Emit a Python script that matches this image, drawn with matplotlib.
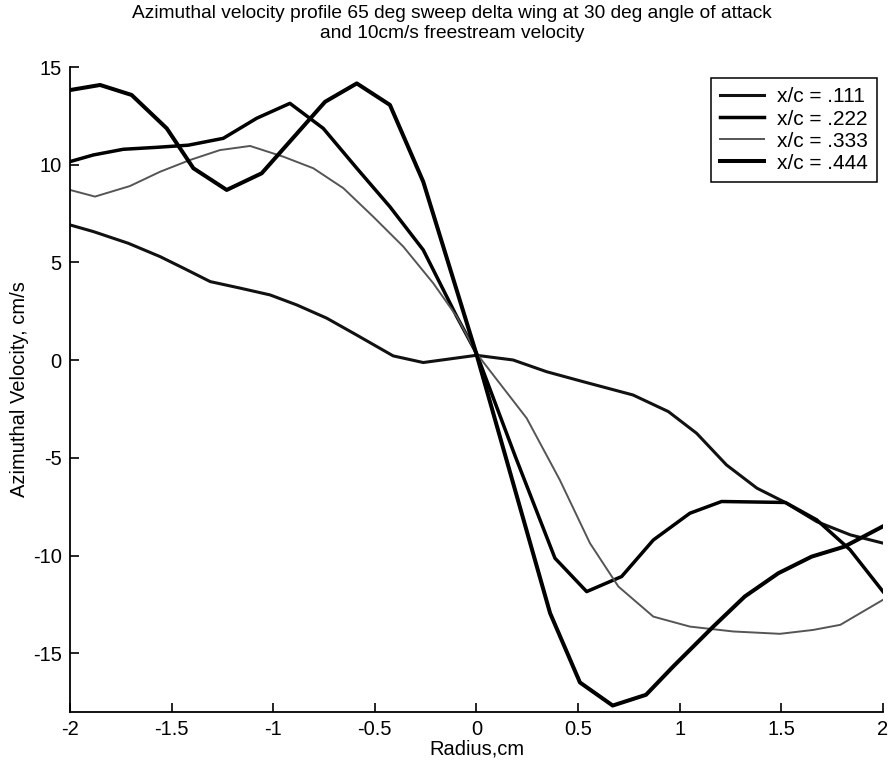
"""
Azimuthal velocity profiles, 65 deg sweep delta wing
"""
import matplotlib
matplotlib.use('Agg')
import matplotlib.pyplot as plt

plt.rcParams['font.family'] = ['Liberation Sans', 'DejaVu Sans']

# radius (cm) and azimuthal velocity (cm/s)
radius_111 = [-2.0, -1.885, -1.713, -1.557, -1.44, -1.31, -1.16, -1.016,
              -0.885, -0.737, -0.59, -0.41, -0.262, 0.0, 0.18, 0.345,
              0.525, 0.77, 0.944, 1.083, 1.23, 1.38, 1.51, 1.674, 1.84, 2.0]
vel_111 = [6.92, 6.58, 5.98, 5.30, 4.70, 4.02, 3.68, 3.34,
           2.83, 2.15, 1.29, 0.22, -0.12, 0.25, 0.01, -0.59,
           -1.1, -1.78, -2.63, -3.74, -5.36, -6.55, -7.23, -8.26, -8.94, -9.36]

radius_222 = [-2.0, -1.885, -1.738, -1.573, -1.418, -1.246, -1.081, -0.918,
              -0.754, -0.589, -0.426, -0.262, -0.097, 0.0, 0.19, 0.386,
              0.542, 0.714, 0.87, 1.05, 1.206, 1.52, 1.674, 1.838, 2.0]
vel_222 = [10.16, 10.5, 10.79, 10.89, 11.0, 11.35, 12.38, 13.14,
           11.86, 9.82, 7.85, 5.64, 2.23, 0.35, -4.9, -10.13,
           -11.84, -11.07, -9.2, -7.83, -7.23, -7.28, -8.17, -9.7, -11.84]

radius_333 = [-2.0, -1.877, -1.705, -1.557, -1.41, -1.262, -1.114, -0.95,
              -0.803, -0.655, -0.508, -0.36, -0.213, -0.097, 0.0, 0.247,
              0.41, 0.558, 0.698, 0.87, 1.05, 1.263, 1.493, 1.657, 1.79, 2.0]
vel_333 = [8.71, 8.37, 8.91, 9.64, 10.24, 10.75, 10.96, 10.41,
           9.82, 8.8, 7.34, 5.81, 3.94, 2.23, 0.35, -2.97,
           -6.13, -9.36, -11.58, -13.12, -13.63, -13.88, -14.0, -13.8, -13.54,
           -12.26]

radius_444 = [-2.0, -1.852, -1.697, -1.524, -1.393, -1.229, -1.057, -0.745,
              -0.589, -0.426, -0.262, 0.0, 0.362, 0.509, 0.67, 0.834,
              0.968, 1.165, 1.32, 1.485, 1.649, 1.81, 2.0]
vel_444 = [13.82, 14.08, 13.57, 11.86, 9.82, 8.71, 9.56, 13.22,
           14.16, 13.06, 9.13, 0.3, -12.94, -16.49, -17.67, -17.12,
           -15.67, -13.63, -12.09, -10.9, -10.05, -9.54, -8.5]

labels = ['x/c = .111', 'x/c = .222', 'x/c = .333', 'x/c = .444']

fig = plt.figure(figsize=(8.91, 7.69), dpi=100)
ax = fig.add_axes([70 / 891, 57 / 769, 813 / 891, 645 / 769])

ax.plot(radius_111, vel_111, color='#111111', lw=2.2, label=labels[0])
ax.plot(radius_222, vel_222, color='black', lw=2.5, label=labels[1])
ax.plot(radius_333, vel_333, color='#555555', lw=1.4, label=labels[2])
ax.plot(radius_444, vel_444, color='black', lw=2.9, label=labels[3])

ax.set_xlim(-2, 2)
ax.set_ylim(-18, 15)
ax.set_xticks([-2, -1.5, -1, -0.5, 0, 0.5, 1, 1.5, 2])
ax.set_xticklabels(['-2', '-1.5', '-1', '-0.5', '0', '0.5', '1', '1.5', '2'])
ax.set_yticks([-15, -10, -5, 0, 5, 10, 15])
ax.set_yticklabels(['-15', '-10', '-5', '0', '5', '10', '15'])

# matlab look: box off, ticks inward
ax.spines['top'].set_visible(False)
ax.spines['right'].set_visible(False)
for side in ['left', 'bottom']:
    ax.spines[side].set_linewidth(1.3)
ax.tick_params(direction='in', length=6.5, width=1.2, labelsize=14.5,
               pad=6)

ax.set_xlabel('Radius,cm', fontsize=14.5, labelpad=0)
ax.set_ylabel('Azimuthal Velocity, cm/s', fontsize=14.5, labelpad=3)

fig.text(452 / 891, 1 - 13 / 769,
         'Azimuthal velocity profile 65 deg sweep delta wing at 30 deg '
         'angle of attack', ha='center', va='center', fontsize=13.8)
fig.text(452 / 891, 1 - 34 / 769, 'and 10cm/s freestream velocity',
         ha='center', va='center', fontsize=13.8)

legend = ax.legend(loc='upper right', bbox_to_anchor=(1 - 6 / 813,
                                                      1 - 11 / 645),
                   borderaxespad=0, fontsize=15, handlelength=2.1,
                   handletextpad=0.6, labelspacing=0.15, fancybox=False,
                   borderpad=0.45)
legend.get_frame().set_edgecolor('black')
legend.get_frame().set_linewidth(1.1)
legend.get_frame().set_alpha(1)

plt.savefig('out.png', dpi=100)
